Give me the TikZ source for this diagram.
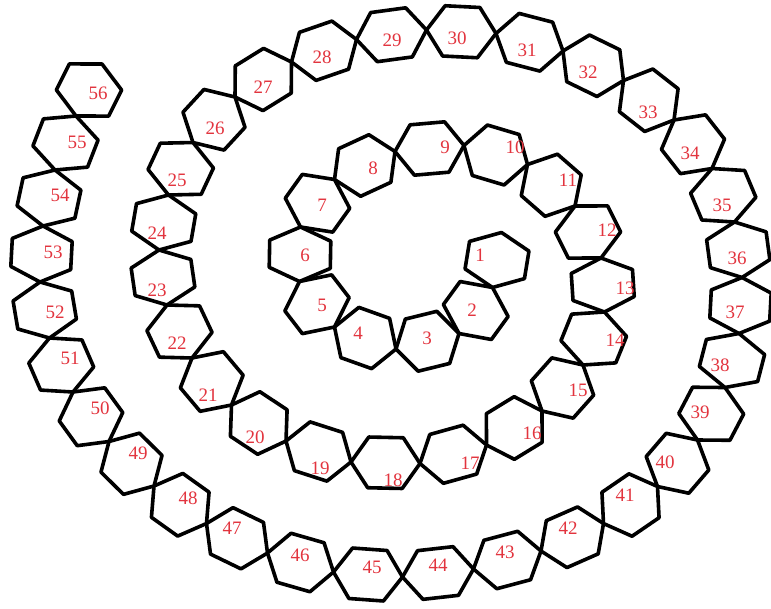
\documentclass[tikz,border=0pt]{standalone}
\usepackage{fontspec}
\setmainfont{Liberation Serif}
\usetikzlibrary{calc}
\definecolor{NumRed}{RGB}{226,52,62}

\begin{document}
\begin{tikzpicture}[x=1pt,y=-1pt,
  hexline/.style={draw=black,line width=3.6pt,line join=round},
  numlabel/.style={text=NumRed,font=\fontsize{19}{19}\selectfont,inner sep=0pt}]
  \useasboundingbox (0,0) rectangle (771,608);
  \foreach \k/\cx/\cy in {1/497/260,2/488/315,3/430/352,4/362/346,5/307/308,6/292/255,7/309/199,8/360/160,
    9/430/143,10/498/148,11/557/181,12/593/231,13/609/285,14/600/339,15/566/391,16/518/431,
    17/455/459,18/385/468,19/317/456,20/255/426,21/208/384,22/176/332,23/158/278,24/160/222,
    25/177/168,26/209/117,27/261/77,28/322/47,29/391/32,30/462/28,31/530/39,32/596/63,
    33/651/98,34/697/142,35/727/195,36/742/249,37/742/306,38/736/361,39/714/414,40/681/466,
    41/634/507,42/573/540,43/509/562,44/438/576,45/367/578,46/300/566,47/235/540,48/178/507,
    49/130/465,50/88/418,51/58/366,52/41/310,53/39/254,54/47/198,55/63/142,56/89/90}
    \coordinate (c\k) at (\cx,\cy);
  \coordinate (c0) at ($(c1)!-1!(c2)$);
  \coordinate (c57) at ($(c56)!-1!(c55)$);
  \foreach \k [evaluate=\k as \nx using int(\k+1)] in {0,...,56}
    \coordinate (j\k) at ($(c\k)!0.5!(c\nx)$);
  \foreach \k [evaluate=\k as \px using int(\k-1)] in {1,...,56}
    \draw[hexline] let \p1=($(j\k)-(j\px)$), \n1={50pt-0.357*veclen(\x1,\y1)} in
      (j\px) -- ($(j\px)!0.25!(j\k)!\n1!90:(j\k)$) -- ($(j\px)!0.75!(j\k)!\n1!90:(j\k)$)
      -- (j\k) -- ($(j\px)!0.75!(j\k)!\n1!-90:(j\k)$) -- ($(j\px)!0.25!(j\k)!\n1!-90:(j\k)$) -- cycle;
  \foreach \k/\lx/\ly in {1/480/255,2/472/310,3/427/338,4/358/333,5/322/305,6/305/255,7/322/205,8/373/168,
    9/445/147,10/515/147,11/568/180,12/607/230,13/625/288,14/615/340,15/578/390,16/532/433,
    17/470/463,18/393/480,19/320/468,20/255/437,21/208/395,22/177/343,23/157/290,24/157/233,
    25/177/180,26/215/128,27/263/87,28/322/57,29/392/40,30/457/38,31/527/50,32/588/72,
    33/648/112,34/690/153,35/722/205,36/737/258,37/735/312,38/720/365,39/700/412,40/665/462,
    41/625/495,42/568/528,43/505/552,44/438/565,45/372/567,46/300/555,47/232/528,48/188/498,
    49/138/453,50/100/408,51/70/358,52/55/312,53/53/252,54/60/195,55/77/142,56/98/93}
    \node[numlabel] (n\k) at (\lx,\ly) {\k};
\end{tikzpicture}
\end{document}
